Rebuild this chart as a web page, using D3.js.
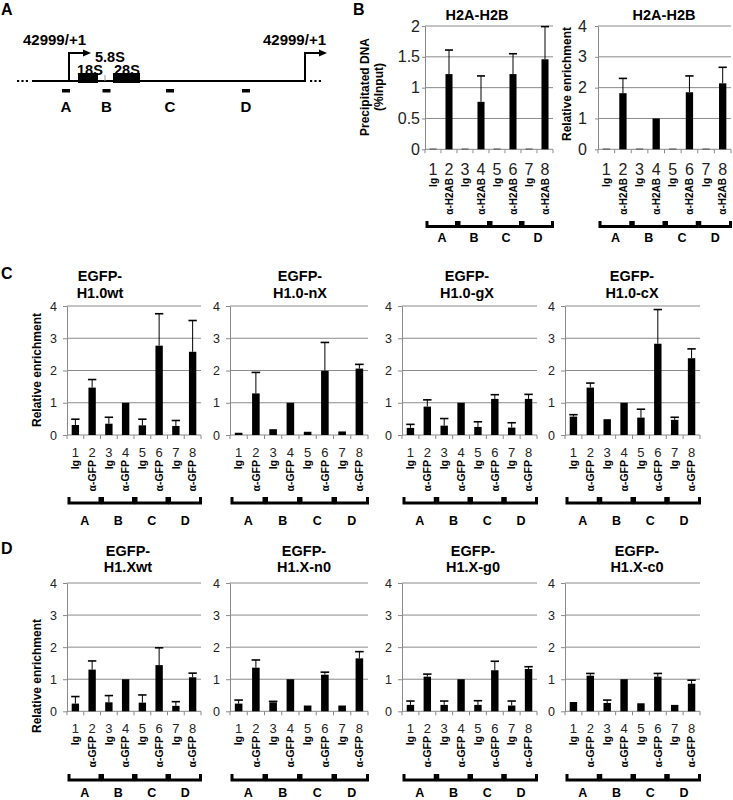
<!DOCTYPE html>
<html><head><meta charset="utf-8">
<script src="https://cdn.jsdelivr.net/npm/d3@7"></script>
<style>body{margin:0;background:#fff} svg{display:block}</style>
</head><body><svg id="fig" width="733" height="800"></svg>
<script>
// ---------------- DATA ----------------
const lanes = ["1","2","3","4","5","6","7","8"];
const sites = ["A","B","C","D"];
const gfpAbs  = ["Ig","α-GFP","Ig","α-GFP","Ig","α-GFP","Ig","α-GFP"];
const h2abAbs = ["Ig","α-H2AB","Ig","α-H2AB","Ig","α-H2AB","Ig","α-H2AB"];
const ticks2 = [0, 0.5, 1, 1.5, 2];
const ticks4 = [0, 1, 2, 3, 4];

// Panel B
const h2abInputVals = [0.01, 1.22, 0.01, 0.77, 0.01, 1.22, 0.01, 1.46];
const h2abInputErrs = [0, 0.39, 0, 0.42, 0, 0.33, 0, 0.53];
const h2abRelVals   = [0.02, 1.82, 0.02, 1.00, 0.02, 1.85, 0.02, 2.14];
const h2abRelErrs   = [0, 0.48, 0, 0, 0, 0.53, 0, 0.52];

// Panel C (EGFP-H1.0 variants)
const h10wtVals = [0.31, 1.47, 0.35, 1.00, 0.30, 2.77, 0.28, 2.58];
const h10wtErrs = [0.18, 0.25, 0.20, 0, 0.19, 0.99, 0.17, 0.97];
const h10nXVals = [0.07, 1.29, 0.18, 1.00, 0.10, 1.99, 0.11, 2.06];
const h10nXErrs = [0, 0.65, 0, 0, 0, 0.88, 0, 0.13];
const h10gXVals = [0.22, 0.88, 0.29, 1.00, 0.25, 1.12, 0.23, 1.12];
const h10gXErrs = [0.11, 0.21, 0.22, 0, 0.16, 0.13, 0.15, 0.14];
const h10cXVals = [0.57, 1.47, 0.49, 1.00, 0.54, 2.83, 0.47, 2.38];
const h10cXErrs = [0.06, 0.14, 0, 0, 0.26, 1.06, 0.08, 0.29];

// Panel D (EGFP-H1.X variants)
const h1XwtVals = [0.24, 1.30, 0.28, 1.00, 0.27, 1.44, 0.17, 1.06];
const h1XwtErrs = [0.22, 0.27, 0.21, 0, 0.24, 0.54, 0.13, 0.13];
const h1Xn0Vals = [0.24, 1.36, 0.28, 1.00, 0.18, 1.14, 0.18, 1.65];
const h1Xn0Errs = [0.11, 0.24, 0.03, 0, 0, 0.08, 0, 0.21];
const h1Xg0Vals = [0.20, 1.08, 0.20, 1.00, 0.20, 1.28, 0.18, 1.32];
const h1Xg0Errs = [0.12, 0.08, 0.12, 0, 0.13, 0.28, 0.14, 0.07];
const h1Xc0Vals = [0.29, 1.11, 0.26, 1.00, 0.25, 1.08, 0.20, 0.86];
const h1Xc0Errs = [0, 0.07, 0.09, 0, 0, 0.10, 0, 0.11];

// ---------------- DRAWING ----------------
const FONT = '"Liberation Sans", Arial, Helvetica, sans-serif';
const GRID = "#8a8a8a";
const svg = d3.select("#fig").style("font-family", FONT);

function txt(x, y, s, size, opts = {}) {
  const t = svg.append("text").attr("x", x).attr("y", y).text(s)
    .attr("font-size", size).attr("font-family", FONT)
    .attr("font-weight", opts.weight || "bold")
    .attr("fill", opts.fill || "#000")
    .attr("text-anchor", opts.anchor || "middle");
  if (opts.rotate) t.attr("transform", `rotate(-90,${x},${y})`);
  return t;
}

function drawChart(o) {
  const g = svg.append("g");
  const x = d3.scaleBand().domain(lanes).range([o.x0, o.x1]);
  const bw = x.bandwidth();
  const barW = bw * 0.44;
  const y = d3.scaleLinear().domain([0, o.max]).range([o.y0, o.yTop]);

  // gridlines
  g.append("g").selectAll("line").data(o.ticks.filter(t => t > 0)).join("line")
    .attr("x1", o.x0).attr("x2", o.x1)
    .attr("y1", d => y(d)).attr("y2", d => y(d))
    .attr("stroke", GRID).attr("stroke-width", 1);

  // y axis
  const ya = g.append("g").attr("transform", `translate(${o.x0},0)`)
    .call(d3.axisLeft(y).tickValues(o.ticks).tickSizeInner(o.tickLen).tickSizeOuter(0)
      .tickPadding(o.tickPad).tickFormat(d => String(d)));
  ya.select(".domain").attr("stroke", GRID);
  ya.selectAll(".tick line").attr("stroke", GRID);
  ya.selectAll(".tick text").attr("font-size", o.tickFont).attr("fill", "#222")
    .attr("font-family", FONT);

  // x axis baseline + boundary ticks
  g.append("line").attr("x1", o.x0).attr("x2", o.x1).attr("y1", o.y0).attr("y2", o.y0)
    .attr("stroke", GRID);
  const bounds = lanes.map(l => x(l)).concat([o.x1]);
  g.append("g").selectAll("line").data(bounds).join("line")
    .attr("x1", d => d).attr("x2", d => d).attr("y1", o.y0).attr("y2", o.y0 + 4)
    .attr("stroke", GRID);

  // bars
  g.append("g").selectAll("rect").data(o.values).join("rect")
    .attr("x", (d, i) => x(lanes[i]) + (bw - barW) / 2)
    .attr("width", barW)
    .attr("y", d => y(d))
    .attr("height", d => o.y0 - y(d))
    .attr("fill", "#000");

  // error bars (upper only)
  const eb = o.values.map((v, i) => ({ v, e: o.errs[i], i })).filter(d => d.e > 0);
  const eg = g.append("g").attr("stroke", "#000");
  eg.selectAll("line.v").data(eb).join("line").attr("class", "v")
    .attr("x1", d => x(lanes[d.i]) + bw / 2).attr("x2", d => x(lanes[d.i]) + bw / 2)
    .attr("y1", d => y(d.v)).attr("y2", d => y(d.v + d.e)).attr("stroke-width", 1);
  eg.selectAll("line.c").data(eb).join("line").attr("class", "c")
    .attr("x1", d => x(lanes[d.i]) + bw / 2 - barW / 2 - 0.5)
    .attr("x2", d => x(lanes[d.i]) + bw / 2 + barW / 2 + 0.5)
    .attr("y1", d => y(d.v + d.e)).attr("y2", d => y(d.v + d.e)).attr("stroke-width", 1.6);

  // lane numbers
  g.append("g").selectAll("text").data(lanes).join("text")
    .attr("x", d => x(d) + bw / 2).attr("y", o.numY)
    .attr("text-anchor", "middle").attr("font-size", o.numFont).attr("fill", "#222")
    .attr("font-family", FONT).text(d => d);

  // rotated antibody labels
  g.append("g").selectAll("text").data(o.abs).join("text")
    .attr("transform", (d, i) => `translate(${x(lanes[i]) + bw / 2 + o.labFont * 0.36},${o.labTop}) rotate(-90)`)
    .attr("text-anchor", "end").attr("font-size", o.labFont).attr("font-weight", "bold")
    .attr("font-family", FONT).text(d => d);

  // brackets
  g.append("g").selectAll("path").data(sites).join("path")
    .attr("d", (s, k) => {
      const a = x(lanes[2 * k]) + 2, b = x(lanes[2 * k + 1]) + bw - 0.5;
      return `M${a},${o.brTop}V${o.brLine}H${b}V${o.brTop}`;
    })
    .attr("fill", "none").attr("stroke", "#000").attr("stroke-width", 3);

  // site letters
  g.append("g").selectAll("text").data(sites).join("text")
    .attr("x", (s, k) => x(lanes[2 * k]) + bw + 1).attr("y", o.letY)
    .attr("text-anchor", "middle").attr("font-size", 12.5).attr("font-weight", "bold")
    .attr("font-family", FONT).text(d => d);

  // title
  o.title.forEach((line, i) => txt(o.titleX, o.titleY[i], line, 14.5));
}

// Panel letters
txt(1, 15, "A", 16, { anchor: "start" });
txt(353, 15, "B", 16, { anchor: "start" });
txt(1, 279, "C", 16, { anchor: "start" });
txt(1, 554, "D", 16, { anchor: "start" });

// ---- Panel A diagram ----
(function () {
  const lineY = 81, top = 53;
  const g = svg.append("g");
  // dotted ends
  [[17, 30], [310, 322]].forEach(([a, b]) =>
    g.append("line").attr("x1", a).attr("x2", b).attr("y1", lineY).attr("y2", lineY)
      .attr("stroke", "#000").attr("stroke-width", 2.2).attr("stroke-dasharray", "2.2,2.2"));
  g.append("line").attr("x1", 32).attr("x2", 306).attr("y1", lineY).attr("y2", lineY)
    .attr("stroke", "#000").attr("stroke-width", 2);
  // rRNA genes
  g.append("rect").attr("x", 78).attr("y", 73).attr("width", 20).attr("height", 10).attr("fill", "#000");
  g.append("rect").attr("x", 113).attr("y", 73).attr("width", 27).attr("height", 10).attr("fill", "#000");
  g.append("line").attr("x1", 105).attr("x2", 105).attr("y1", 75).attr("y2", 81)
    .attr("stroke", "#999").attr("stroke-width", 1);
  // promoter arrows
  [69, 305].forEach(px => {
    g.append("path").attr("d", `M${px},${lineY}V${top}H${px + 16}`)
      .attr("fill", "none").attr("stroke", "#000").attr("stroke-width", 2);
    g.append("path").attr("d", `M${px + 22},${top}L${px + 14},${top - 3.5}L${px + 14},${top + 3.5}Z`)
      .attr("fill", "#000");
  });
  // primer positions
  const primers = [{ s: "A", x: 66 }, { s: "B", x: 106.5 }, { s: "C", x: 170 }, { s: "D", x: 246 }];
  primers.forEach(p => {
    g.append("rect").attr("x", p.x - 4).attr("y", 89).attr("width", 8).attr("height", 3.5).attr("fill", "#000");
    txt(p.x, 112, p.s, 15);
  });
  txt(23, 45, "42999/+1", 15, { anchor: "start" });
  txt(263, 45, "42999/+1", 15, { anchor: "start" });
  txt(95, 62, "5.8S", 14.5, { anchor: "start" });
  txt(77, 74.5, "18S", 14.5, { anchor: "start" });
  txt(114, 74.5, "28S", 14.5, { anchor: "start" });
})();

// ---- Panel B ----
const bCommon = { yTop: 26, y0: 149.3, numY: 175, numFont: 16, labTop: 178, labFont: 10,
  brTop: 221, brLine: 226.5, letY: 242, tickLen: 3, tickFont: 16, abs: h2abAbs,
  title: ["H2A-H2B"], titleY: [20] };
drawChart(Object.assign({}, bCommon, { x0: 425, x1: 553, max: 2, ticks: ticks2, tickPad: 2,
  values: h2abInputVals, errs: h2abInputErrs, titleX: 477 }));
drawChart(Object.assign({}, bCommon, { x0: 598, x1: 731, max: 4, ticks: ticks4, tickPad: 8,
  values: h2abRelVals, errs: h2abRelErrs, titleX: 664 }));
txt(369, 87, "Precipitated DNA", 12, { rotate: true });
txt(383, 87, "(%Input)", 12, { rotate: true });
txt(571, 84, "Relative enrichment", 12, { rotate: true });

// ---- Panel C ----
const cCommon = { yTop: 306, y0: 435, max: 4, ticks: ticks4, numY: 457, numFont: 13,
  labTop: 460, labFont: 10.5, brTop: 497, brLine: 503, letY: 525, tickLen: 4, tickPad: 6,
  tickFont: 12.5, abs: gfpAbs, titleY: [281, 298] };
drawChart(Object.assign({}, cCommon, { x0: 67, x1: 201, values: h10wtVals, errs: h10wtErrs,
  title: ["EGFP-", "H1.0wt"], titleX: 100 }));
drawChart(Object.assign({}, cCommon, { x0: 230, x1: 368, values: h10nXVals, errs: h10nXErrs,
  title: ["EGFP-", "H1.0-nX"], titleX: 300 }));
drawChart(Object.assign({}, cCommon, { x0: 402, x1: 537, values: h10gXVals, errs: h10gXErrs,
  title: ["EGFP-", "H1.0-gX"], titleX: 467 }));
drawChart(Object.assign({}, cCommon, { x0: 565, x1: 700, values: h10cXVals, errs: h10cXErrs,
  title: ["EGFP-", "H1.0-cX"], titleX: 632 }));
txt(41, 370, "Relative enrichment", 12, { rotate: true });

// ---- Panel D ----
const dCommon = { yTop: 583, y0: 711.3, max: 4, ticks: ticks4, numY: 733, numFont: 13,
  labTop: 736, labFont: 10.5, brTop: 774, brLine: 780, letY: 796.5, tickLen: 4, tickPad: 6,
  tickFont: 12.5, abs: gfpAbs, titleY: [556, 572] };
drawChart(Object.assign({}, dCommon, { x0: 67, x1: 201, values: h1XwtVals, errs: h1XwtErrs,
  title: ["EGFP-", "H1.Xwt"], titleX: 128 }));
drawChart(Object.assign({}, dCommon, { x0: 230, x1: 368, values: h1Xn0Vals, errs: h1Xn0Errs,
  title: ["EGFP-", "H1.X-n0"], titleX: 304 }));
drawChart(Object.assign({}, dCommon, { x0: 402, x1: 537, values: h1Xg0Vals, errs: h1Xg0Errs,
  title: ["EGFP-", "H1.X-g0"], titleX: 473 }));
drawChart(Object.assign({}, dCommon, { x0: 565, x1: 700, values: h1Xc0Vals, errs: h1Xc0Errs,
  title: ["EGFP-", "H1.X-c0"], titleX: 637 }));
txt(41, 676, "Relative enrichment", 12, { rotate: true });
</script>
</body></html>
